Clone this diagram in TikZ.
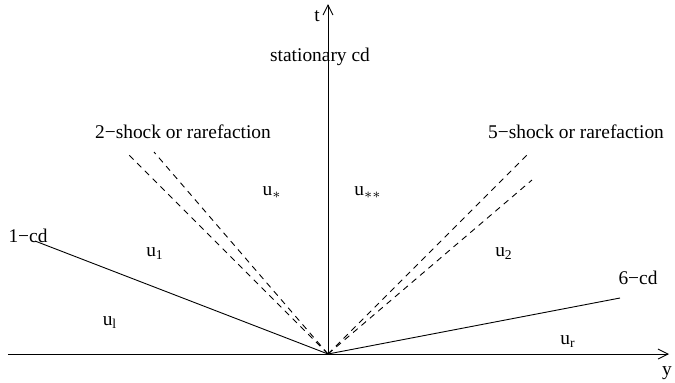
\documentclass[tikz,border=0pt]{standalone}
\usepackage{fontspec}
\setmainfont{Liberation Serif}
\usepackage{tikz}
\usetikzlibrary{arrows.meta,positioning,calc}
\tikzset{
  >={Straight Barb[length=5pt,width=5pt]},
  axis/.style  = {->, line width=0.45pt},
  wave/.style  = {line width=0.45pt},
  fan/.style   = {line width=0.45pt, dash pattern=on 3pt off 2.5pt},
  lbl/.style   = {inner sep=0pt, font=\fontsize{9.7}{11.6}\selectfont},
  state/.style = {inner sep=0pt, font=\fontsize{9.7}{11.6}\selectfont}
}
\newcommand{\st}[1]{u\textsubscript{#1}}

\begin{document}
\begin{tikzpicture}[x=0.5pt,y=0.5pt]
\useasboundingbox (-328,-28) rectangle (347,354);
% origin and ends of the waves
\coordinate (O) at (0,0);
\coordinate (yL) at (-320,0);
\coordinate (yR) at (341,0);
\coordinate (tT) at (0,350);
\coordinate (cdL) at (-293,113);
\coordinate (cdR) at (292,56);
\coordinate (sL1) at (-201,201);
\coordinate (sL2) at (-174,202);
\coordinate (sR1) at (201,201);
\coordinate (sR2) at (204,174);

% axes
\draw[axis] (yL) -- (yR);
\draw[axis] (O) -- (tT);

% contact discontinuities
\draw[wave] (O) -- (cdL);
\draw[wave] (O) -- (cdR);

% shock or rarefaction fans
\draw[fan] (O) -- (sL1);
\draw[fan] (O) -- (sL2);
\draw[fan] (O) -- (sR1);
\draw[fan] (O) -- (sR2);

% labels
\node[lbl] (t) at (-11,338) {t};
\node[lbl] (y) at (339,-19) {y};
\node[lbl] (stat) at (-8,297) {stationary cd};
\node[lbl] (two) at (-145,222) {2−shock or rarefaction};
\node[lbl] (five) at (248,222) {5−shock or rarefaction};
\node[lbl] (one) at (-300,118) {1−cd};
\node[lbl] (six) at (310,76) {6−cd};

% states
\node[state] (u1) at (-173,100) {\st{1}};
\node[state] (ul) at (-218,31) {\st{l}};
\node[state] (us) at (-56,161) {u\textsubscript{$\ast$}};
\node[state] (uss) at (40,161) {u\textsubscript{$\ast\ast$}};
\node[state] (u2) at (176,100) {\st{2}};
\node[state] (ur) at (240,12) {\st{r}};
\end{tikzpicture}
\end{document}
